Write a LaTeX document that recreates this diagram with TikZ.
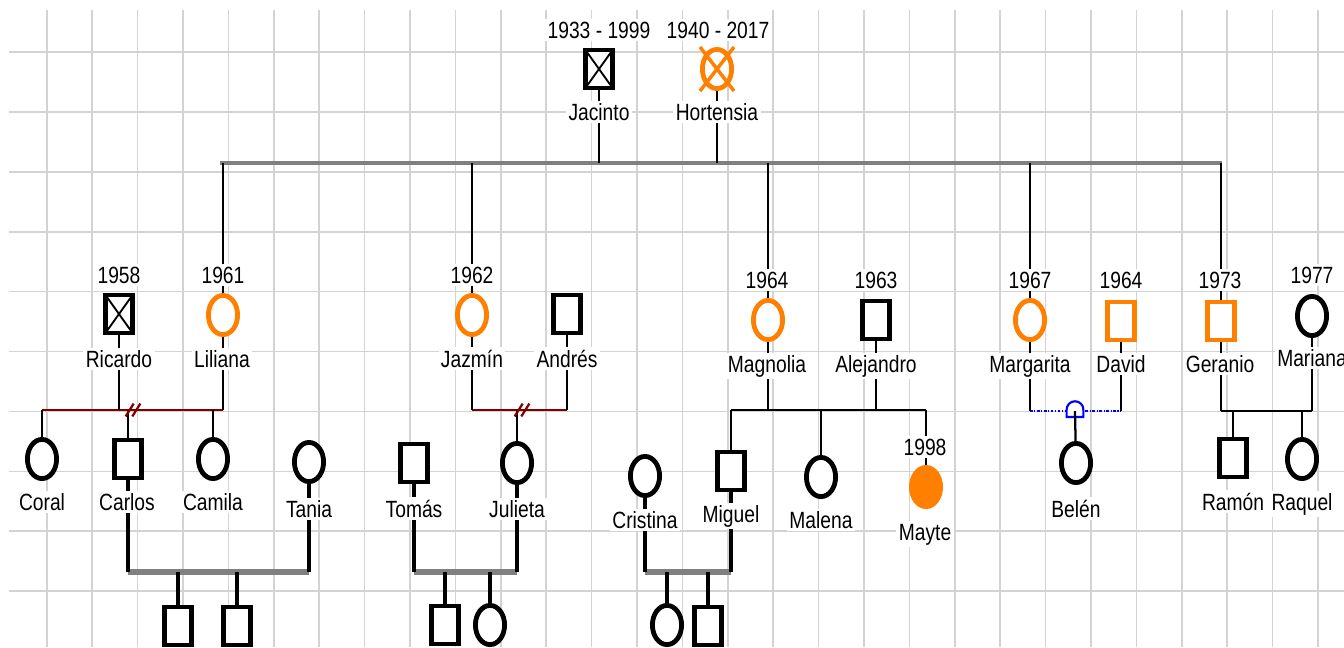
\documentclass[tikz,border=0pt]{standalone}
\usepackage{fontspec}
\setmainfont{Liberation Sans}[FakeStretch=0.82]
\usetikzlibrary{positioning,shapes.geometric}

\definecolor{penorange}{RGB}{255,128,0}
\definecolor{splitred}{RGB}{128,0,0}
\definecolor{sheetgray}{RGB}{211,211,211}
\definecolor{bondgray}{RGB}{128,128,128}
\definecolor{fosterblue}{RGB}{0,0,255}

\pgfdeclarelayer{sheet}
\pgfdeclarelayer{links}
\pgfsetlayers{sheet,links,main}

\tikzset{
  person/.style={draw, fill=white, line width=3.6pt, inner sep=0pt},
  male/.style={person, rectangle, minimum width=20.4pt, minimum height=28.6pt},
  female/.style={person, ellipse, minimum width=21.9pt, minimum height=29.4pt},
  hl/.style={draw=penorange},
  dead/.style={path picture={\draw[line width=1.4pt]
      (path picture bounding box.north west) -- (path picture bounding box.south east)
      (path picture bounding box.south west) -- (path picture bounding box.north east);}},
  lbl/.style={fill=white, inner sep=1.8pt, anchor=base, font=\fontsize{17.6pt}{21pt}\selectfont},
  kin/.style={line width=1.7pt},
  boldkin/.style={line width=3pt},
  sibship/.style={bondgray, line width=2.3pt},
  couple/.style={bondgray, line width=3.8pt},
  split/.style={splitred, line width=1.7pt},
  fosterlink/.style={fosterblue, line width=1.6pt, dash pattern=on 2pt off 1.2pt on 0.8pt off 1.2pt},
  sheetline/.style={sheetgray, line width=1.2pt},
}

% two short strokes across a broken union line
\newcommand{\splitmark}[1]{%
  \draw[split] ([shift={(-5.5pt,-4.8pt)}]#1) -- ([shift={(0.5pt,4.8pt)}]#1)
               ([shift={(-0.5pt,-4.8pt)}]#1) -- ([shift={(5.5pt,4.8pt)}]#1);}

\begin{document}
\begin{tikzpicture}[x=0.75pt,y=-0.75pt]
\useasboundingbox (0,0) rectangle (1344,647);
% squared paper behind the family tree
\begin{pgfonlayer}{sheet}
\foreach \k in {0,...,28} \draw[sheetline] ({46.7+45.4*\k},10) -- ({46.7+45.4*\k},647);
\foreach \k in {0,...,9} \draw[sheetline] (9,{52+59.9*\k}) -- (1344,{52+59.9*\k});
\end{pgfonlayer}

% generation I
\node[male, dead] (jacinto) at (599,69) {};
\node[female, hl] (hortensia) at (717,69) {};
\draw[penorange, line width=2.6pt]
  (hortensia.north -| hortensia.west) -- (hortensia.south -| hortensia.east)
  (hortensia.north -| hortensia.east) -- (hortensia.south -| hortensia.west);
\node[lbl] (jacinto-yr) at (599,38) {1933 - 1999};
\node[lbl] (hortensia-yr) at (718,38) {1940 - 2017};
\node[lbl] (jacinto-nm) at (599,120) {Jacinto};
\node[lbl] (hortensia-nm) at (717,120) {Hortensia};

% generation II
\node[male, dead] (ricardo) at (119,314) {};
\node[female, hl] (liliana) at (223,315) {};
\node[female, hl] (jazmin) at (472,315) {};
\node[male] (andres) at (567,314) {};
\node[female, hl] (magnolia) at (768,320) {};
\node[male] (alejandro) at (876,320) {};
\node[female, hl] (margarita) at (1030,320) {};
\node[male, hl] (david) at (1121,321) {};
\node[male, hl] (geranio) at (1221,321) {};
\node[female] (mariana) at (1312,316) {};

\node[lbl] (ricardo-yr) at (119,283) {1958};
\node[lbl] (liliana-yr) at (223,283) {1961};
\node[lbl] (jazmin-yr) at (472,283) {1962};
\node[lbl] (magnolia-yr) at (767,288) {1964};
\node[lbl] (alejandro-yr) at (876,288) {1963};
\node[lbl] (margarita-yr) at (1030,288) {1967};
\node[lbl] (david-yr) at (1121,288) {1964};
\node[lbl] (geranio-yr) at (1220,288) {1973};
\node[lbl] (mariana-yr) at (1312,283) {1977};

\node[lbl] (ricardo-nm) at (119,367) {Ricardo};
\node[lbl] (liliana-nm) at (222,367) {Liliana};
\node[lbl] (jazmin-nm) at (472,367) {Jazmín};
\node[lbl] (andres-nm) at (567,367) {Andrés};
\node[lbl] (magnolia-nm) at (767,372) {Magnolia};
\node[lbl] (alejandro-nm) at (876,372) {Alejandro};
\node[lbl] (margarita-nm) at (1030,372) {Margarita};
\node[lbl] (david-nm) at (1121,372) {David};
\node[lbl] (geranio-nm) at (1220,372) {Geranio};
\node[lbl] (mariana-nm) at (1312,366) {Mariana};

% generation III
\node[female] (coral) at (42,459) {};
\node[male] (carlos) at (128,459) {};
\node[female] (camila) at (213,459) {};
\node[female] (tania) at (309,462) {};
\node[male] (tomas) at (414,463) {};
\node[female] (julieta) at (517,463) {};
\node[female] (cristina) at (645,476) {};
\node[male] (miguel) at (731,471) {};
\node[female] (malena) at (821,477) {};
\node[female, draw=penorange, fill=penorange] (mayte) at (926,487) {};
\node[female] (belen) at (1076,463) {};
\node[male] (ramon) at (1233,458) {};
\node[female] (raquel) at (1302,459) {};

\node[lbl] (coral-nm) at (42,510) {Coral};
\node[lbl] (carlos-nm) at (127,510) {Carlos};
\node[lbl] (camila-nm) at (213,510) {Camila};
\node[lbl] (tania-nm) at (309,517) {Tania};
\node[lbl] (tomas-nm) at (414,517) {Tomás};
\node[lbl] (julieta-nm) at (517,517) {Julieta};
\node[lbl] (cristina-nm) at (645,528) {Cristina};
\node[lbl] (miguel-nm) at (731,522) {Miguel};
\node[lbl] (malena-nm) at (821,528) {Malena};
\node[lbl] (mayte-yr) at (925,455) {1998};
\node[lbl] (mayte-nm) at (925,540) {Mayte};
\node[lbl] (belen-nm) at (1076,517) {Belén};
\node[lbl] (ramon-nm) at (1233,510) {Ramón};
\node[lbl] (raquel-nm) at (1302,510) {Raquel};

% generation IV
\node[male] (ct-son1) at (178,626) {};
\node[male] (ct-son2) at (237,626) {};
\node[male] (tj-son) at (445,625) {};
\node[female] (tj-dau) at (490,625) {};
\node[female] (cm-dau) at (667,625) {};
\node[male] (cm-son) at (708,626) {};

% unions and descent lines
\begin{pgfonlayer}{links}
\coordinate (sibL) at (220,163);
\coordinate (sibR) at (1222,163);
\draw[sibship] (sibL) -- (sibR);
\foreach \p in {jacinto,hortensia,liliana,jazmin,magnolia,margarita,geranio}
  \draw[kin] (\p) -- (\p |- sibL);

\coordinate (rl) at (133,410);
\draw[split] (coral |- rl) -- (liliana |- rl);
\foreach \p in {ricardo,liliana,coral,carlos,camila}
  \draw[kin] (\p) -- (\p |- rl);

\coordinate (ja) at (522,410);
\draw[split] (jazmin |- ja) -- (andres |- ja);
\foreach \p in {jazmin,andres,julieta}
  \draw[kin] (\p) -- (\p |- ja);

\coordinate (ma) at (800,410);
\draw[kin] (miguel |- ma) -- (mayte |- ma);
\foreach \p in {magnolia,alejandro,miguel,malena,mayte}
  \draw[kin] (\p) -- (\p |- ma);

\coordinate (md) at (1075,411);
\draw[fosterlink] (margarita |- md) -- (david |- md);
\foreach \p in {margarita,david}
  \draw[kin] (\p) -- (\p |- md);

\coordinate (gm) at (1260,411);
\draw[kin] (geranio |- gm) -- (mariana |- gm);
\foreach \p in {geranio,mariana,ramon,raquel}
  \draw[kin] (\p) -- (\p |- gm);

\coordinate (ct) at (200,572);
\coordinate (tj) at (470,572);
\coordinate (cm) at (690,572);
\draw[couple] (carlos |- ct) -- (tania |- ct);
\draw[couple] (tomas |- tj) -- (julieta |- tj);
\draw[couple] (cristina |- cm) -- (miguel |- cm);
\foreach \p in {carlos,tania,ct-son1,ct-son2}
  \draw[boldkin] (\p) -- (\p |- ct);
\foreach \p in {tomas,julieta,tj-son,tj-dau}
  \draw[boldkin] (\p) -- (\p |- tj);
\foreach \p in {cristina,miguel,cm-dau,cm-son}
  \draw[boldkin] (\p) -- (\p |- cm);
\end{pgfonlayer}

\splitmark{rl}
\splitmark{ja}
\draw[fosterblue, line width=1.6pt, fill=white]
  ([shift={(-6.3pt,-4.5pt)}]md) -- ([shift={(-6.3pt,1pt)}]md)
  arc[start angle=180, end angle=0, radius=6.3pt] -- ([shift={(6.3pt,-4.5pt)}]md) -- cycle;
\draw[kin] (md) -- (belen);
\end{tikzpicture}
\end{document}
